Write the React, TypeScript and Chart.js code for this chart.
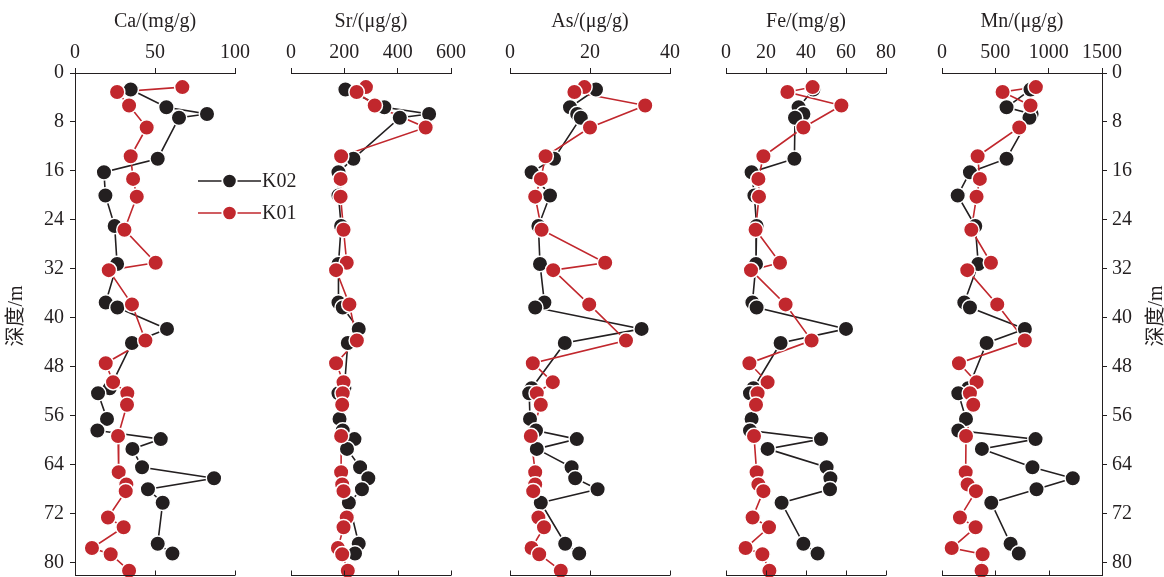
import React, { useEffect, useRef } from "react";
import { Chart, registerables } from "chart.js";

Chart.register(...registerables);

// ---------- data ----------
const DEPTH_K02 = [2.7, 5.6, 6.7, 7.3, 14.0, 16.2, 20.0, 25.0, 31.2, 37.5, 38.3, 41.8, 44.1, 51.5, 52.3, 56.5, 58.4, 59.8, 61.4, 64.4, 66.2, 68.0, 70.2, 76.9, 78.5];
const DEPTH_K01 = [2.3, 3.1, 5.3, 8.9, 13.6, 17.3, 20.2, 25.6, 31.0, 32.2, 37.8, 43.7, 47.4, 50.5, 52.3, 54.2, 59.3, 65.2, 67.2, 68.3, 72.6, 74.2, 77.6, 78.6, 81.3];

const CA_K02 = [34.8, 57.1, 82.5, 65.0, 51.7, 18.1, 19.0, 24.8, 26.3, 19.2, 26.5, 57.5, 35.6, 21.7, 14.4, 20.0, 14.0, 53.6, 35.9, 41.9, 86.9, 45.6, 54.8, 51.7, 60.9];
const CA_K01 = [67.1, 26.3, 33.8, 44.8, 34.8, 36.3, 38.6, 30.9, 50.4, 21.1, 35.6, 44.0, 19.2, 23.8, 32.7, 32.5, 26.9, 27.3, 32.1, 31.7, 20.6, 30.4, 10.6, 22.3, 33.8];

const SR_K02 = [204, 350, 518, 408, 234, 178, 178, 188, 178, 178, 194, 254, 213, 200, 178, 182, 194, 238, 210, 259, 290, 266, 217, 254, 240];
const SR_K01 = [281, 246, 314, 505, 188, 186, 186, 197, 209, 169, 219, 247, 169, 197, 194, 192, 188, 188, 192, 197, 209, 197, 176, 192, 213];

const AS_K02 = [21.5, 15.0, 16.8, 17.7, 11.0, 5.4, 10.0, 7.1, 7.5, 8.6, 6.3, 32.9, 13.7, 5.4, 4.8, 5.0, 6.5, 16.7, 6.7, 15.4, 16.3, 21.9, 7.7, 13.8, 17.3];
const AS_K01 = [18.6, 16.1, 33.8, 20.0, 8.9, 7.7, 6.3, 7.9, 23.8, 10.8, 19.8, 29.0, 5.7, 10.7, 6.7, 7.7, 5.2, 6.3, 6.3, 5.8, 7.1, 8.5, 5.4, 7.3, 12.7];

const FE_K02 = [43.7, 36.3, 38.7, 34.5, 34.2, 12.8, 14.2, 15.3, 15.0, 13.2, 15.3, 60.0, 27.3, 13.7, 12.0, 12.8, 12.0, 47.5, 20.8, 50.3, 52.2, 52.0, 27.8, 38.7, 45.8];
const FE_K01 = [43.3, 30.7, 57.7, 38.7, 18.7, 16.2, 16.5, 14.8, 27.0, 12.5, 29.8, 42.8, 11.7, 20.8, 15.8, 15.0, 14.0, 15.3, 16.2, 18.7, 13.3, 21.5, 9.8, 18.2, 21.7];

const MN_K02 = [830, 605, 840, 820, 605, 262, 147, 312, 340, 209, 262, 777, 418, 246, 153, 225, 153, 877, 374, 848, 1226, 886, 462, 643, 720];
const MN_K01 = [880, 568, 830, 724, 334, 355, 324, 275, 459, 237, 518, 777, 159, 324, 262, 293, 225, 222, 240, 318, 168, 315, 91, 381, 371];

const SERIES_LABELS = ["K02", "K01"];
const DEPTH_TITLE = "深度/m";
const DEPTH_MAX = 82;
const DEPTH_STEP = 8;

// ---------- style ----------
const FONT = "'Liberation Serif', 'Times New Roman', 'Noto Sans CJK SC', serif";
const INK = "#231f20";
const RED = "#c1272d";
const PAGE_H = 577;
const CANVAS_H = 605;
const PLOT_TOP = 73;
const PLOT_BOTTOM = 575;
const PLOT_W = 160;

type Spec = {
  title: string;
  max: number;
  step: number;
  k02: number[];
  k01: number[];
  plotLeft: number;
  yAxis: "left" | "right" | "none";
  legend?: boolean;
};

const PANELS: Spec[] = [
  { title: "Ca/(mg/g)", max: 100, step: 50, k02: CA_K02, k01: CA_K01, plotLeft: 75, yAxis: "left", legend: true },
  { title: "Sr/(μg/g)", max: 600, step: 200, k02: SR_K02, k01: SR_K01, plotLeft: 291, yAxis: "none" },
  { title: "As/(μg/g)", max: 40, step: 20, k02: AS_K02, k01: AS_K01, plotLeft: 510, yAxis: "none" },
  { title: "Fe/(mg/g)", max: 80, step: 20, k02: FE_K02, k01: FE_K01, plotLeft: 726, yAxis: "none" },
  { title: "Mn/(μg/g)", max: 1500, step: 500, k02: MN_K02, k01: MN_K01, plotLeft: 942, yAxis: "right" },
];

const pts = (xs: number[], ys: number[]) => xs.map((v, i) => ({ x: v, y: ys[i] }));

const bottomAxisPlugin = {
  id: "bottomAxis",
  afterDraw(chart: any) {
    const { ctx, chartArea } = chart;
    const xs = chart.scales.x;
    const y = chartArea.bottom + 0.5;
    ctx.save();
    ctx.strokeStyle = INK;
    ctx.lineWidth = 1;
    ctx.beginPath();
    ctx.moveTo(chartArea.left, y);
    ctx.lineTo(chartArea.right, y);
    xs.ticks.forEach((t: any) => {
      const px = Math.round(xs.getPixelForValue(t.value)) + 0.5;
      ctx.moveTo(px, y);
      ctx.lineTo(px, y - 5);
    });
    ctx.stroke();
    ctx.restore();
  },
};

function makeLegendPlugin() {
  return {
    id: "customLegend",
    afterDraw(chart: any) {
      const ctx = chart.ctx;
      const rows = [
        { label: SERIES_LABELS[0], color: INK, y: 181 },
        { label: SERIES_LABELS[1], color: RED, y: 213 },
      ];
      ctx.save();
      rows.forEach((r) => {
        ctx.strokeStyle = r.color;
        ctx.lineWidth = 1.5;
        ctx.beginPath();
        ctx.moveTo(198, r.y);
        ctx.lineTo(261, r.y);
        ctx.stroke();
        ctx.beginPath();
        ctx.arc(229.5, r.y, 7.2, 0, Math.PI * 2);
        ctx.fillStyle = r.color;
        ctx.fill();
        ctx.strokeStyle = "#ffffff";
        ctx.lineWidth = 1.8;
        ctx.stroke();
        ctx.fillStyle = INK;
        ctx.font = `20px ${FONT}`;
        ctx.textAlign = "left";
        ctx.textBaseline = "middle";
        ctx.fillText(r.label, 262, r.y + 1);
      });
      ctx.restore();
    },
  };
}

function makeDepthTitlePlugin(xInCanvas: number) {
  return {
    id: "depthTitle",
    afterDraw(chart: any) {
      const ctx = chart.ctx;
      const { top, bottom } = chart.chartArea;
      ctx.save();
      ctx.translate(xInCanvas, (top + bottom) / 2 - 8);
      ctx.rotate(-Math.PI / 2);
      ctx.fillStyle = INK;
      ctx.font = `20px ${FONT}`;
      ctx.textAlign = "center";
      ctx.textBaseline = "middle";
      ctx.fillText(DEPTH_TITLE, 0, 0);
      ctx.restore();
    },
  };
}

function geometry(spec: Spec) {
  if (spec.yAxis === "left") {
    const yW = spec.plotLeft;
    const padR = 100;
    return { left: 0, width: yW + PLOT_W + padR, padL: 0, padR, yW };
  }
  if (spec.yAxis === "right") {
    const left = spec.plotLeft - 30;
    const yW = 1164 - (spec.plotLeft + PLOT_W);
    return { left, width: 1164 - left, padL: 30, padR: 0, yW };
  }
  return { left: spec.plotLeft - 30, width: PLOT_W + 60, padL: 30, padR: 30, yW: 0 };
}

function Panel({ spec }: { spec: Spec }) {
  const ref = useRef<HTMLCanvasElement>(null);
  const g = geometry(spec);

  useEffect(() => {
    if (!ref.current) return;
    const plugins: any[] = [bottomAxisPlugin];
    if (spec.legend) plugins.push(makeLegendPlugin());
    if (spec.yAxis === "left") plugins.push(makeDepthTitlePlugin(17 - g.left));
    if (spec.yAxis === "right") plugins.push(makeDepthTitlePlugin(1157 - g.left));

    const tickFont = { family: FONT, size: 20 };
    const yDisplay = spec.yAxis !== "none";

    const chart = new Chart(ref.current, {
      type: "line",
      data: {
        datasets: [
          {
            label: SERIES_LABELS[0],
            data: pts(spec.k02, DEPTH_K02),
            borderColor: INK,
            borderWidth: 1.6,
            pointRadius: 0,
            tension: 0,
            fill: false,
            order: 4,
          },
          {
            label: SERIES_LABELS[1],
            data: pts(spec.k01, DEPTH_K01),
            borderColor: RED,
            borderWidth: 1.6,
            pointRadius: 0,
            tension: 0,
            fill: false,
            order: 3,
          },
          {
            label: SERIES_LABELS[0],
            data: pts(spec.k02, DEPTH_K02),
            showLine: false,
            pointRadius: 7.75,
            pointBackgroundColor: INK,
            pointBorderColor: "#ffffff",
            pointBorderWidth: 1.5,
            clip: false,
            order: 2,
          },
          {
            label: SERIES_LABELS[1],
            data: pts(spec.k01, DEPTH_K01),
            showLine: false,
            pointRadius: 7.75,
            pointBackgroundColor: RED,
            pointBorderColor: "#ffffff",
            pointBorderWidth: 1.5,
            clip: false,
            order: 1,
          },
        ] as any,
      },
      options: {
        animation: false,
        responsive: false,
        devicePixelRatio: 1,
        events: [],
        layout: { padding: { left: g.padL, right: g.padR, top: 0, bottom: CANVAS_H - PLOT_BOTTOM } },
        plugins: { legend: { display: false }, tooltip: { enabled: false } },
        scales: {
          x: {
            type: "linear",
            position: "top",
            min: 0,
            max: spec.max,
            ticks: {
              stepSize: spec.step,
              autoSkip: false,
              maxRotation: 0,
              font: tickFont,
              color: INK,
              padding: 3,
              includeBounds: false,
              callback: (v: any) => String(v),
            },
            grid: { drawOnChartArea: false, drawTicks: true, tickLength: 5, color: INK, lineWidth: 1 },
            border: { display: true, color: INK, width: 1 },
            title: { display: true, text: spec.title, font: tickFont, color: INK, padding: { top: 10, bottom: 0 } },
            afterFit: (s: any) => {
              s.height = PLOT_TOP;
            },
          },
          y: {
            type: "linear",
            display: yDisplay,
            position: spec.yAxis === "right" ? "right" : "left",
            reverse: true,
            min: 0,
            max: DEPTH_MAX,
            ticks: {
              stepSize: DEPTH_STEP,
              autoSkip: false,
              font: tickFont,
              color: INK,
              padding: spec.yAxis === "right" ? 5 : 6,
              includeBounds: false,
              callback: (v: any) => String(v),
            },
            grid: { drawOnChartArea: false, drawTicks: true, tickLength: 5, color: INK, lineWidth: 1 },
            border: { display: true, color: INK, width: 1 },
            title: { display: false },
            afterFit: (s: any) => {
              if (yDisplay) s.width = g.yW;
            },
          },
        },
      } as any,
      plugins,
    });
    return () => chart.destroy();
  }, []);

  return (
    <canvas
      ref={ref}
      width={g.width}
      height={CANVAS_H}
      style={{ position: "absolute", left: g.left, top: 0, width: g.width, height: CANVAS_H }}
    />
  );
}

export default function App() {
  return (
    <div
      style={{
        position: "fixed",
        left: 0,
        top: 0,
        width: 1164,
        height: PAGE_H,
        background: "#ffffff",
        overflow: "hidden",
      }}
    >
      {PANELS.map((p) => (
        <Panel key={p.title} spec={p} />
      ))}
    </div>
  );
}
